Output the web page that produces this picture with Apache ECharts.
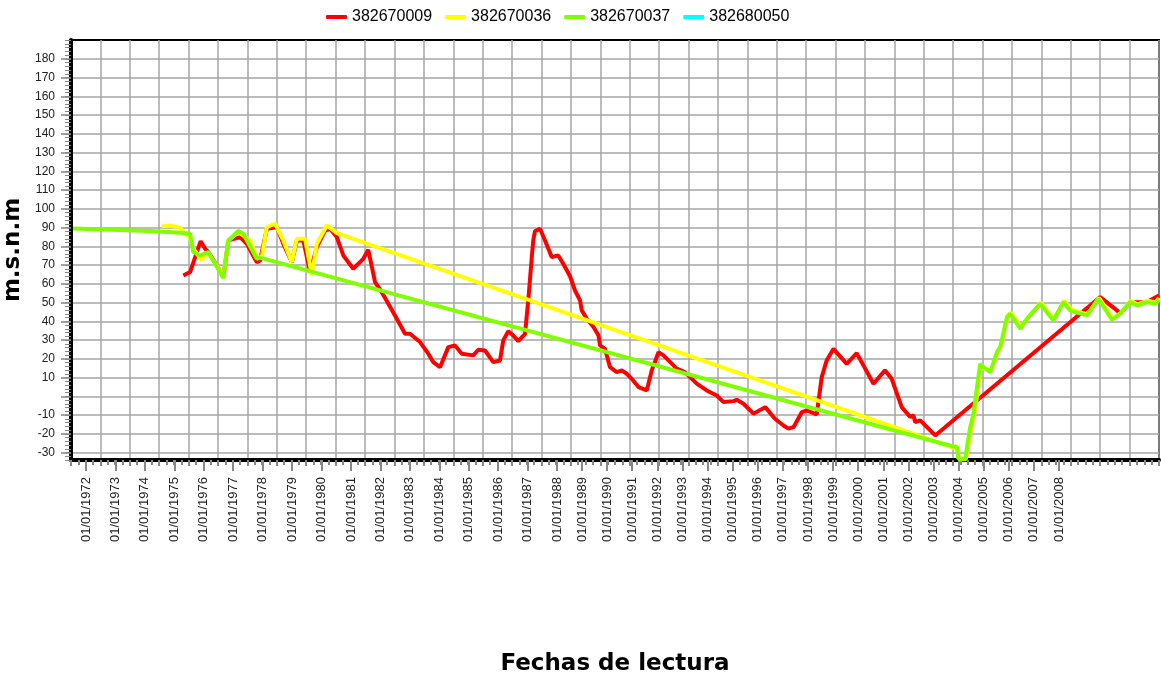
<!DOCTYPE html>
<html>
<head>
<meta charset="utf-8">
<script src="https://cdn.jsdelivr.net/npm/echarts@6/dist/echarts.min.js"></script>
<style>
  html, body { margin: 0; padding: 0; background: #fff; }
  #chart { width: 1161px; height: 680px; }
</style>
</head>
<body>
<div id="chart"></div>
<script>
// Niveles de pozos (m.s.n.m) - fechas en años decimales
const names = ['382670009', '382670036', '382670037', '382680050']
const colors = ['#ff0000', '#ffff00', '#80ff00', '#00ffff']

// 382670009
const dates009 = [1975.32, 1975.55, 1975.78, 1975.91, 1976.06, 1976.17, 1976.46, 1976.68, 1976.85, 1977.25,
  1977.48, 1977.82, 1977.93, 1978.16, 1978.50, 1978.72, 1979.01, 1979.18, 1979.40, 1979.63,
  1979.86, 1980.14, 1980.31, 1980.54, 1980.76, 1981.10, 1981.44, 1981.61, 1981.84, 1982.07,
  1982.58, 1982.86, 1983.03, 1983.37, 1983.65, 1983.82, 1984.05, 1984.33, 1984.56, 1984.79,
  1985.18, 1985.35, 1985.58, 1985.86, 1986.09, 1986.20, 1986.37, 1986.54, 1986.71, 1986.94,
  1987.05, 1987.17, 1987.22, 1987.28, 1987.45, 1987.62, 1987.85, 1988.07, 1988.24, 1988.47,
  1988.64, 1988.81, 1988.87, 1989.04, 1989.27, 1989.44, 1989.49, 1989.66, 1989.83, 1990.06,
  1990.23, 1990.40, 1990.57, 1990.80, 1991.08, 1991.25, 1991.48, 1991.65, 1992.10, 1992.38,
  1992.78, 1993.12, 1993.46, 1993.69, 1994.03, 1994.14, 1994.37, 1994.71, 1995.11, 1995.44,
  1995.73, 1995.90, 1996.07, 1996.35, 1996.52, 1996.86, 1997.03, 1997.20, 1997.43, 1997.88,
  1998.22, 1998.79, 1999.18, 1999.41, 1999.75, 2000.04, 2000.15, 2000.21, 2000.38, 2000.89,
  2006.50, 2007.07, 2007.18, 2007.52, 2008.09, 2008.50]
const levels009 = [64.4, 66.2, 76.9, 82.7, 78.7, 76.9, 69.8, 63.5, 83.1, 84.9,
  81.3, 71.5, 72.4, 89.3, 90.2, 81.3, 71.5, 83.1, 83.1, 66.2,
  79.5, 88.4, 89.3, 84.9, 75.1, 68.0, 73.3, 78.1, 60.9, 55.5,
  41.3, 33.3, 33.3, 28.9, 22.7, 18.2, 15.5, 26.2, 27.1, 22.7,
  21.8, 24.8, 24.4, 18.2, 19.1, 29.8, 34.7, 32.4, 29.4, 33.3,
  51.1, 74.2, 83.1, 88.1, 89.3, 83.1, 74.2, 75.1, 70.7, 64.0,
  56.4, 51.1, 45.8, 41.3, 36.9, 32.4, 27.1, 25.3, 15.5, 12.9,
  13.8, 12.0, 9.3, 4.9, 3.1, 13.8, 23.5, 21.8, 14.7, 12.9,
  6.7, 3.1, 0.4, -3.1, -2.6, -1.9, -4.0, -9.3, -5.8, -12.0,
  -15.6, -17.3, -16.5, -8.5, -7.6, -9.7, 10.2, 19.1, 25.3, 17.3,
  23.0, 6.7, 13.8, 9.3, -5.8, -11.1, -10.2, -13.8, -12.9, -20.9,
  52.9, 45.8, 44.0, 50.2, 50.2, 53.7]

// 382670036
const dates036 = [1974.58, 1974.87, 1975.21, 1975.55, 1975.66, 1975.95, 1976.12, 1976.46, 1976.68, 1976.85,
  1977.19, 1977.59, 1977.82, 1977.99, 1978.16, 1978.44, 1978.72, 1979.01, 1979.18, 1979.46,
  1979.69, 1979.86, 1980.20, 1980.54, 2001.50, 2001.62, 2001.72, 2001.93, 2002.12, 2002.24,
  2002.45, 2002.56, 2002.79, 2003.02, 2003.13, 2003.36, 2003.47, 2003.80, 2004.04, 2004.48,
  2004.93, 2005.27, 2005.50, 2006.07, 2006.46, 2006.92, 2007.20, 2007.54, 2007.77, 2008.11,
  2008.39, 2008.50]
const levels036 = [90.6, 91.1, 89.9, 84.0, 78.7, 72.4, 76.9, 69.8, 63.5, 83.1,
  87.5, 83.1, 74.2, 74.2, 90.2, 92.0, 83.1, 71.5, 84.0, 84.0,
  64.4, 81.3, 91.1, 87.0, -27.4, -26.5, -33.6, -33.6, -17.0, -8.0,
  17.0, 15.0, 13.5, 24.0, 27.0, 43.0, 44.5, 37.0, 42.0, 50.0,
  41.0, 51.0, 46.5, 43.5, 52.5, 41.5, 44.5, 51.0, 49.0, 51.0,
  50.0, 52.5]

// 382670037
const dates037 = [1971.57, 1974.19, 1975.27, 1975.55, 1975.66, 1975.89, 1976.17, 1976.68, 1976.85, 1977.19,
  1977.36, 1977.82, 1977.93, 2001.51, 2001.63, 2001.68, 2001.91, 2002.08, 2002.19, 2002.42,
  2002.53, 2002.76, 2002.99, 2003.10, 2003.33, 2003.44, 2003.78, 2004.01, 2004.46, 2004.91,
  2005.25, 2005.48, 2006.05, 2006.44, 2006.90, 2007.18, 2007.52, 2007.75, 2008.09, 2008.37,
  2008.50]
const levels037 = [89.5, 88.1, 87.2, 86.7, 76.9, 75.1, 76.9, 63.0, 83.1, 88.1,
  86.7, 73.3, 73.9, -26.8, -27.1, -33.3, -33.3, -16.5, -9.3, 17.3,
  15.5, 12.9, 23.5, 26.2, 42.2, 44.0, 36.0, 41.3, 49.3, 40.4,
  50.2, 45.7, 43.1, 52.0, 40.8, 44.0, 50.2, 48.4, 50.2, 49.3,
  51.5]

// 382680050 (sin datos visibles)
const dates050 = []
const levels050 = []

// etiquetas del eje X
const xLabelsA = ['01/01/1972', '01/01/1973', '01/01/1974', '01/01/1975', '01/01/1976', '01/01/1977',
  '01/01/1978', '01/01/1979', '01/01/1980', '01/01/1981', '01/01/1982', '01/01/1983', '01/01/1984',
  '01/01/1985', '01/01/1986', '01/01/1987', '01/01/1988']
const xLabelsB = ['01/01/1989', '01/01/1990', '01/01/1991', '01/01/1992', '01/01/1993', '01/01/1994',
  '01/01/1995', '01/01/1996', '01/01/1997', '01/01/1998', '01/01/1999', '01/01/2000', '01/01/2001',
  '01/01/2002', '01/01/2003', '01/01/2004', '01/01/2005', '01/01/2006', '01/01/2007', '01/01/2008']

// marcas del eje Y (el 0 no lleva etiqueta)
const yTicks = [-30, -20, -10, 0, 10, 20, 30, 40, 50, 60, 70, 80, 90, 100, 110, 120, 130, 140, 150, 160, 170, 180]
const yLabels = [-30, -20, -10, 10, 20, 30, 40, 50, 60, 70, 80, 90, 100, 110, 120, 130, 140, 150, 160, 170, 180]

const allDates = [dates009, dates036, dates037, dates050]
const allLevels = [levels009, levels036, levels037, levels050]

const FONT = 'Liberation Sans, Arial, sans-serif'
const chart = echarts.init(document.getElementById('chart'))

// construir series
const series = names.map((name, i) => ({
  name: name,
  type: 'line',
  xAxisIndex: 0,
  yAxisIndex: 0,
  showSymbol: false,
  symbol: 'none',
  color: colors[i],
  lineStyle: { width: 4, color: colors[i] },
  data: allDates[i].map((d, k) => [d, allLevels[i][k]])
}))

// eje de etiquetas (solo texto y marcas)
function labelAxis(gridIndex, labels) {
  return {
    gridIndex: gridIndex,
    type: 'category',
    data: labels,
    boundaryGap: false,
    axisLine: { show: false, onZero: false },
    axisTick: { show: true, interval: 0, length: 11, lineStyle: { color: '#888', width: 2 } },
    axisLabel: { interval: 0, rotate: 90, margin: 17, fontSize: 13, color: '#222', fontFamily: FONT },
    splitLine: { show: false }
  }
}

const option = {
  animation: false,
  backgroundColor: '#fff',
  legend: {
    top: 4,
    left: 321,
    icon: 'roundRect',
    itemWidth: 21,
    itemHeight: 4,
    itemGap: 13,
    textStyle: { fontSize: 16, color: '#000', fontFamily: FONT },
    data: names
  },
  grid: [
    { left: 71, right: 2, top: 40, bottom: 220, outerBoundsMode: 'none', show: true, borderColor: '#000', borderWidth: 2, backgroundColor: '#fff' },
    { left: 86, right: 604, top: 40, bottom: 220, outerBoundsMode: 'none' },
    { left: 582, right: 102, top: 40, bottom: 220, outerBoundsMode: 'none' }
  ],
  xAxis: [
    {
      gridIndex: 0,
      type: 'value',
      min: 1971.5,
      max: 2008.5,
      interval: 1,
      axisLine: { onZero: false, lineStyle: { color: '#000', width: 4 } },
      axisTick: { show: true, length: 6, lineStyle: { color: '#888', width: 2 } },
      minorTick: { show: true, splitNumber: 4, length: 5, lineStyle: { color: '#888', width: 2 } },
      axisLabel: { show: false },
      splitLine: { show: true, lineStyle: { color: '#a6a6a6', width: 1.5 } },
      name: 'Fechas de lectura',
      nameLocation: 'middle',
      nameGap: 193,
      nameTextStyle: { fontSize: 23, fontWeight: 'bold', color: '#000', fontFamily: 'DejaVu Sans' }
    },
    labelAxis(1, xLabelsA),
    labelAxis(2, xLabelsB)
  ],
  yAxis: [
    {
      gridIndex: 0,
      type: 'value',
      min: -34,
      max: 190,
      axisLine: { show: true, onZero: false, lineStyle: { color: '#000', width: 4 } },
      axisTick: { show: true, customValues: yTicks, length: 10, lineStyle: { color: '#888', width: 1.5 } },
      axisLabel: { customValues: yLabels, margin: 16, fontSize: 12, color: '#222', fontFamily: FONT },
      splitLine: { show: true, lineStyle: { color: '#a6a6a6', width: 1.5 } },
      name: 'm.s.n.m',
      nameLocation: 'middle',
      nameRotate: 90,
      nameGap: 40,
      nameTextStyle: { fontSize: 23, fontWeight: 'bold', color: '#000', fontFamily: 'DejaVu Sans' }
    },
    {
      // marcas menores del eje Y
      gridIndex: 0,
      type: 'value',
      position: 'left',
      min: -34,
      max: 190,
      interval: 2,
      axisLine: { show: false, onZero: false },
      axisTick: { show: true, length: 6, lineStyle: { color: '#888', width: 1 } },
      axisLabel: { show: false },
      splitLine: { show: false }
    },
    { gridIndex: 1, type: 'value', show: false },
    { gridIndex: 2, type: 'value', show: false }
  ],
  series: series
}

chart.setOption(option)
</script>
</body>
</html>
